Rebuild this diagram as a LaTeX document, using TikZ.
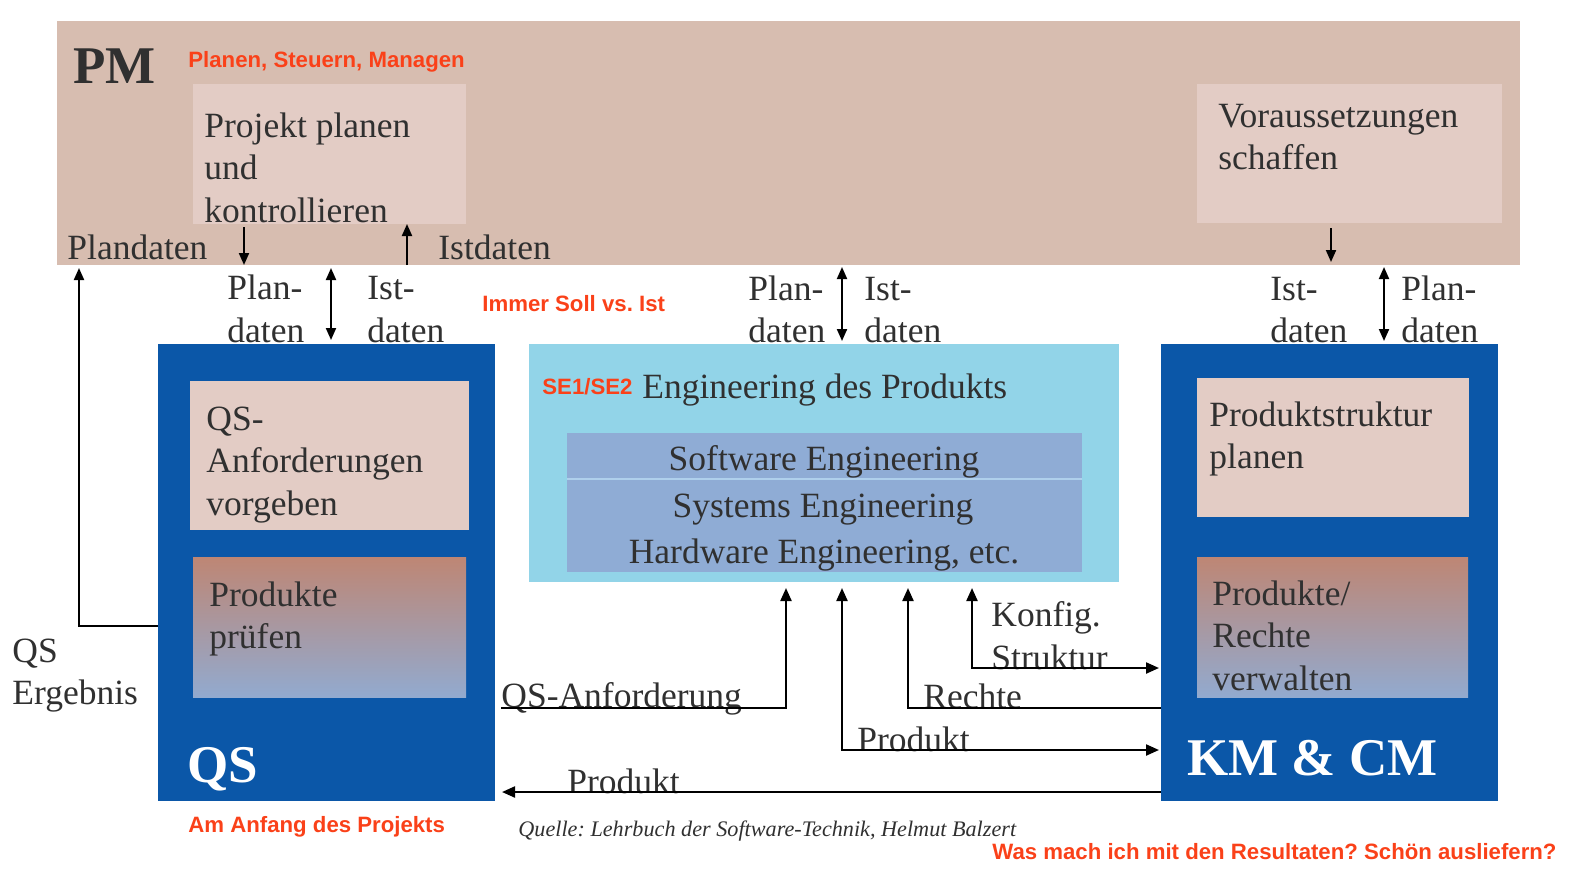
\documentclass[tikz,border=0pt]{standalone}
\usepackage{fontspec}
\setmainfont{Liberation Serif}
\newfontfamily\redsf{Liberation Sans}
\usetikzlibrary{fit,arrows.meta}
\definecolor{pmbg}{RGB}{215,189,176}
\definecolor{pinkbox}{RGB}{227,204,197}
\definecolor{qsblue}{RGB}{11,87,168}
\definecolor{sebg}{RGB}{146,212,232}
\definecolor{seinner}{RGB}{143,172,213}
\definecolor{sesep}{RGB}{175,208,236}
\definecolor{gradtop}{RGB}{190,134,116}
\definecolor{gradbot}{RGB}{146,170,207}
\definecolor{tgray}{RGB}{48,48,48}
\definecolor{remark}{RGB}{250,65,25}
\newcommand\mylines[1]{\begin{tabular}[t]{@{}l@{}}#1\end{tabular}}
\frenchspacing
\begin{document}
\frenchspacing
\begin{tikzpicture}[x=0.5pt,y=-0.5pt,
  area/.style={inner sep=0pt, outer sep=0pt, draw=none},
  txt/.style={inner sep=0pt, anchor=base west, text=tgray, font=\frenchspacing\fontsize{17.75}{21.25}\selectfont},
  txtc/.style={txt, anchor=base},
  big/.style={inner sep=0pt, anchor=base west, font=\fontsize{26.5}{30}\selectfont\bfseries},
  remarktxt/.style={inner sep=0pt, anchor=base west, text=remark, font=\frenchspacing\redsf\bfseries\fontsize{11.1}{13}\selectfont},
  srctxt/.style={inner sep=0pt, anchor=base west, text=tgray, font=\frenchspacing\fontsize{11.1}{13}\selectfont\itshape},
  arr/.style={-{Triangle[length=6.5pt,width=5.5pt]}, line width=1.1pt},
  darr/.style={{Triangle[length=6.5pt,width=5.5pt]}-{Triangle[length=6.5pt,width=5.5pt]}, line width=1.1pt},
  sarr/.style={-{Triangle[length=6pt,width=5pt]}, line width=1pt},
  sdarr/.style={{Triangle[length=6pt,width=5pt]}-{Triangle[length=6pt,width=5pt]}, line width=1pt},
  plain/.style={line width=1.1pt}
]
\useasboundingbox (0,0) rectangle (1574,890);

% --- boxes ---
\node[area, fill=pmbg, fit={(57,21) (1520,265)}] (pm) {};
\node[area, fill=pinkbox, fit={(193,84) (466,224)}] (pj) {};
\node[area, fill=pinkbox, fit={(1197,84) (1502,223)}] (vo) {};

\node[area, fill=qsblue, fit={(158,344) (495,801)}] (qs) {};
\node[area, fill=pinkbox, fit={(190,381) (469,530)}] (qsa) {};
\node[area, top color=gradtop, bottom color=gradbot, fit={(193,557) (466,697)}] (pp) {};

\node[area, fill=sebg, fit={(529,344) (1119,582)}] (se) {};
\node[area, fill=seinner, fit={(567,433) (1082,572)}] (sei) {};
\coordinate (ysep) at (0,479);
\draw[sesep, line width=1pt] (sei.west |- ysep) -- (sei.east |- ysep);

\node[area, fill=qsblue, fit={(1161,344) (1498,801)}] (km) {};
\node[area, fill=pinkbox, fit={(1197,378) (1469,517)}] (ps) {};
\node[area, top color=gradtop, bottom color=gradbot, fit={(1197,557) (1468,697)}] (pr) {};

% --- texts ---
\node[big, text=tgray] (tPM) at (73,83) {PM};
\node[remarktxt] (tPSM) at (188,67) {Planen, Steuern, Managen};
\node[txt] (tPJ) at (204,137) {\mylines{Projekt planen\\und\\kontrollieren}};
\node[txt] (tPlandaten) at (67,259) {Plandaten};
\node[txt] (tIstdaten) at (438,259) {Istdaten};
\node[txt] (tPlan1) at (227,299.5) {\mylines{Plan-\\daten}};
\node[txt] (tIst1) at (367,299.5) {\mylines{Ist-\\daten}};
\node[remarktxt] (tSoll) at (482,311) {Immer Soll vs. Ist};
\node[txt] (tPlan2) at (748,300) {\mylines{Plan-\\daten}};
\node[txt] (tIst2) at (864,300) {\mylines{Ist-\\daten}};
\node[txt] (tIst3) at (1270,300) {\mylines{Ist-\\daten}};
\node[txt] (tPlan3) at (1401,300) {\mylines{Plan-\\daten}};
\node[txt] (tVO) at (1218,127) {\mylines{Voraussetzungen\\schaffen}};

\node[remarktxt] (tSE) at (542,394.5) {SE1/SE2};
\node[txt] (tEng) at (642,398) {Engineering des Produkts};
\node[txtc] (tSW) at (824,470) {Software Engineering};
\node[txtc] (tSys) at (823,517.5) {Systems Engineering};
\node[txtc] (tHW) at (824,563) {Hardware Engineering, etc.};

\node[txt] (tQSA) at (206,430) {\mylines{QS-\\Anforderungen\\vorgeben}};
\node[txt] (tPP) at (209,606) {\mylines{Produkte\\prüfen}};
\node[big, text=white] (tQS) at (187,782) {QS};
\node[remarktxt] (tAnf) at (188,832.5) {Am Anfang des Projekts};
\node[txt] (tQSE) at (12,662) {\mylines{QS\\Ergebnis}};

\node[txt] (tPS) at (1209,426) {\mylines{Produktstruktur\\planen}};
\node[txt] (tPR) at (1212,605) {\mylines{Produkte/\\Rechte\\verwalten}};
\node[big, text=white] (tKM) at (1187,775) {KM \& CM};

\node[txt] (tKonf) at (991,626.5) {\mylines{Konfig.\\Struktur}};
\node[txt] (tQSAnf) at (501,707) {QS-Anforderung};
\node[txt] (tRechte) at (923,708) {Rechte};
\node[txt] (tProd1) at (857,751) {Produkt};
\node[txt] (tProd2) at (567,793) {Produkt};
\node[srctxt] (tSrc) at (518,836.5) {Quelle: Lehrbuch der Software-Technik, Helmut Balzert};
\node[remarktxt] (tWas) at (992,859.5) {Was mach ich mit den Resultaten? Schön ausliefern?};

% --- connector positions ---
\coordinate (xA) at (244,0);
\coordinate (xB) at (407,0);
\coordinate (xC) at (331,0);
\coordinate (xD) at (842,0);
\coordinate (xE) at (1331,0);
\coordinate (xF) at (1384,0);
\coordinate (xQE) at (79,0);
\coordinate (yQE) at (0,626);
\coordinate (xQA) at (786,0);
\coordinate (xPA) at (842,0);
\coordinate (xRE) at (908,0);
\coordinate (xKO) at (972,0);
\coordinate (yKO) at (0,668);
\coordinate (yRE) at (0,708);
\coordinate (yPA) at (0,750);
\coordinate (yPB) at (0,792);

% --- upper connectors ---
\draw[sarr, shorten <=1.5pt] (pj.south -| xA) -- (pm.south -| xA);
\draw[sarr] (pm.south -| xB) -- (pj.south -| xB);
\draw[sdarr, shorten <=1.5pt, shorten >=2pt] (pm.south -| xC) -- (qs.north -| xC);
\draw[sdarr, shorten <=1pt, shorten >=1.5pt] (pm.south -| xD) -- (se.north -| xD);
\draw[sarr, shorten <=2.5pt, shorten >=1.5pt] (vo.south -| xE) -- (pm.south -| xE);
\draw[sdarr, shorten <=1pt, shorten >=1.5pt] (pm.south -| xF) -- (km.north -| xF);
\draw[sarr, shorten >=1.5pt] (qs.west |- yQE) -- (xQE |- yQE) -- (pm.south -| xQE);

% --- lower connectors ---
\draw[arr, shorten <=3pt, shorten >=3pt] (qs.east |- yRE) -- (xQA |- yRE) -- (se.south -| xQA);
\draw[darr, shorten <=3pt, shorten >=1pt] (se.south -| xPA) -- (xPA |- yPA) -- (km.west |- yPA);
\draw[arr, shorten >=3pt] (km.west |- yRE) -- (xRE |- yRE) -- (se.south -| xRE);
\draw[darr, shorten <=3pt, shorten >=1pt] (se.south -| xKO) -- (xKO |- yKO) -- (km.west |- yKO);
\draw[arr, shorten >=3.5pt] (km.west |- yPB) -- (qs.east |- yPB);
\end{tikzpicture}
\end{document}
